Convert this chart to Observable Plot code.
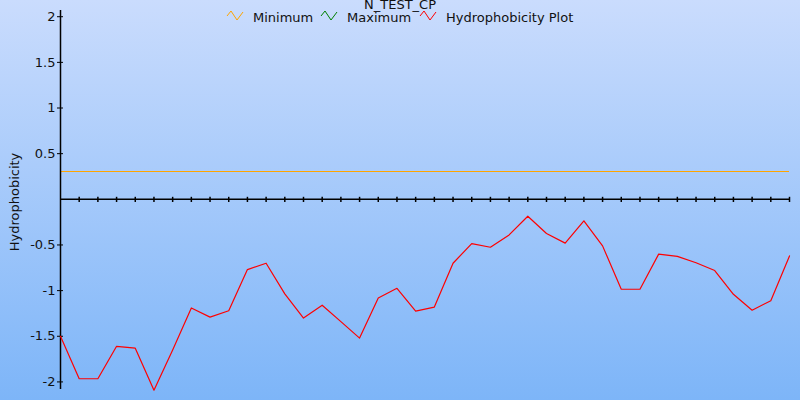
<!DOCTYPE html>
<html><head><meta charset="utf-8">
<script src="https://cdn.jsdelivr.net/npm/d3@7"></script>
<script src="https://cdn.jsdelivr.net/npm/@observablehq/plot@0.6"></script>
<style>
body{margin:0;background:#fff;}
#wrap{position:relative;width:800px;height:400px;background:linear-gradient(#cadcfd,#7db5f8);font-family:"DejaVu Sans",sans-serif;overflow:hidden;color:#111;}
#wrap svg.plot{position:absolute;left:0;top:0;}
.t{position:absolute;font-size:13px;line-height:15px;white-space:nowrap;}
.ico{position:absolute;}
</style>
</head><body>
<div id="wrap"></div>
<script>
const title = "N_TEST_CP";
const yLabel = "Hydrophobicity";
const legendNames = ["Minimum", "Maximum", "Hydrophobicity Plot"];
const legendColors = ["#ffa500", "#008000", "#ff0000"];
const hydro = [-1.50, -1.965, -1.965, -1.61, -1.63, -2.09, -1.65, -1.19, -1.29, -1.22,
  -0.77, -0.70, -1.035, -1.30, -1.16, -1.34, -1.52, -1.08, -0.975, -1.225,
  -1.18, -0.70, -0.485, -0.525, -0.39, -0.185, -0.375, -0.48, -0.235, -0.51,
  -0.985, -0.985, -0.60, -0.625, -0.695, -0.78, -1.04, -1.215, -1.11, -0.62];
const minimumValue = 0.30;
const yTicks = [-2, -1.5, -1, -0.5, 0.5, 1, 1.5, 2];

const idx = hydro.map((_, i) => i);
const pts = hydro.map((v, i) => ({i, v}));
const xTicks = idx.slice(1);

const wrap = document.getElementById("wrap");

const chart = Plot.plot({
  width: 800, height: 400,
  marginLeft: 60, marginRight: 11, marginTop: 10, marginBottom: 11,
  style: {background: "transparent", fontFamily: "DejaVu Sans, sans-serif", fontSize: "13px", color: "#111"},
  x: {domain: [0, hydro.length - 1], axis: null},
  y: {domain: [-2.083, 2.068], axis: null},
  marks: [
    Plot.ruleY([minimumValue], {stroke: legendColors[0], strokeWidth: 1, shapeRendering: "crispEdges"}),
    Plot.ruleY([0], {stroke: "#000", strokeWidth: 1.5}),
    Plot.ruleX(xTicks, {x: d => d, y1: 0.022, y2: -0.035, stroke: "#000", strokeWidth: 1.5}),
    Plot.ruleX([0], {stroke: "#000", strokeWidth: 1.5}),
    Plot.axisY(yTicks, {anchor: "left", tickSize: 6, dx: 3, tickFormat: () => "", label: null, stroke: "#000"}),
    Plot.axisY(yTicks, {anchor: "left", tickSize: 0, tickPadding: 5, label: null, fill: "#111", fontSize: 13, tickFormat: d => String(d)}),
    Plot.line(pts, {x: "i", y: "v", stroke: legendColors[2], strokeWidth: 1.2}),
    Plot.text([yLabel], {frameAnchor: "left", textAnchor: "middle", rotate: -90, dx: -46, dy: 2, fontSize: 13, fill: "#111"})
  ]
});
wrap.appendChild(chart);

function addText(txt, left, top, center) {
  const d = document.createElement("div");
  d.className = "t";
  d.textContent = txt;
  d.style.top = top + "px";
  if (center) { d.style.left = "0px"; d.style.width = "800px"; d.style.textAlign = "center"; }
  else d.style.left = left + "px";
  wrap.appendChild(d);
}
function addIcon(color, left, top) {
  const ns = "http://www.w3.org/2000/svg";
  const s = document.createElementNS(ns, "svg");
  s.setAttribute("width", 18); s.setAttribute("height", 12);
  s.setAttribute("class", "ico");
  s.style.left = left + "px"; s.style.top = top + "px";
  const p = document.createElementNS(ns, "polyline");
  p.setAttribute("points", "1,6 5,1 11,10 17,2");
  p.setAttribute("fill", "none"); p.setAttribute("stroke", color); p.setAttribute("stroke-width", "1");
  s.appendChild(p);
  wrap.appendChild(s);
}
addText(title, 0, -3, true);
const iconX = [226, 320, 419];
const textX = [253, 347, 446];
legendNames.forEach((n, k) => { addIcon(legendColors[k], iconX[k], 10); addText(n, textX[k], 10, false); });
</script>
</body></html>
